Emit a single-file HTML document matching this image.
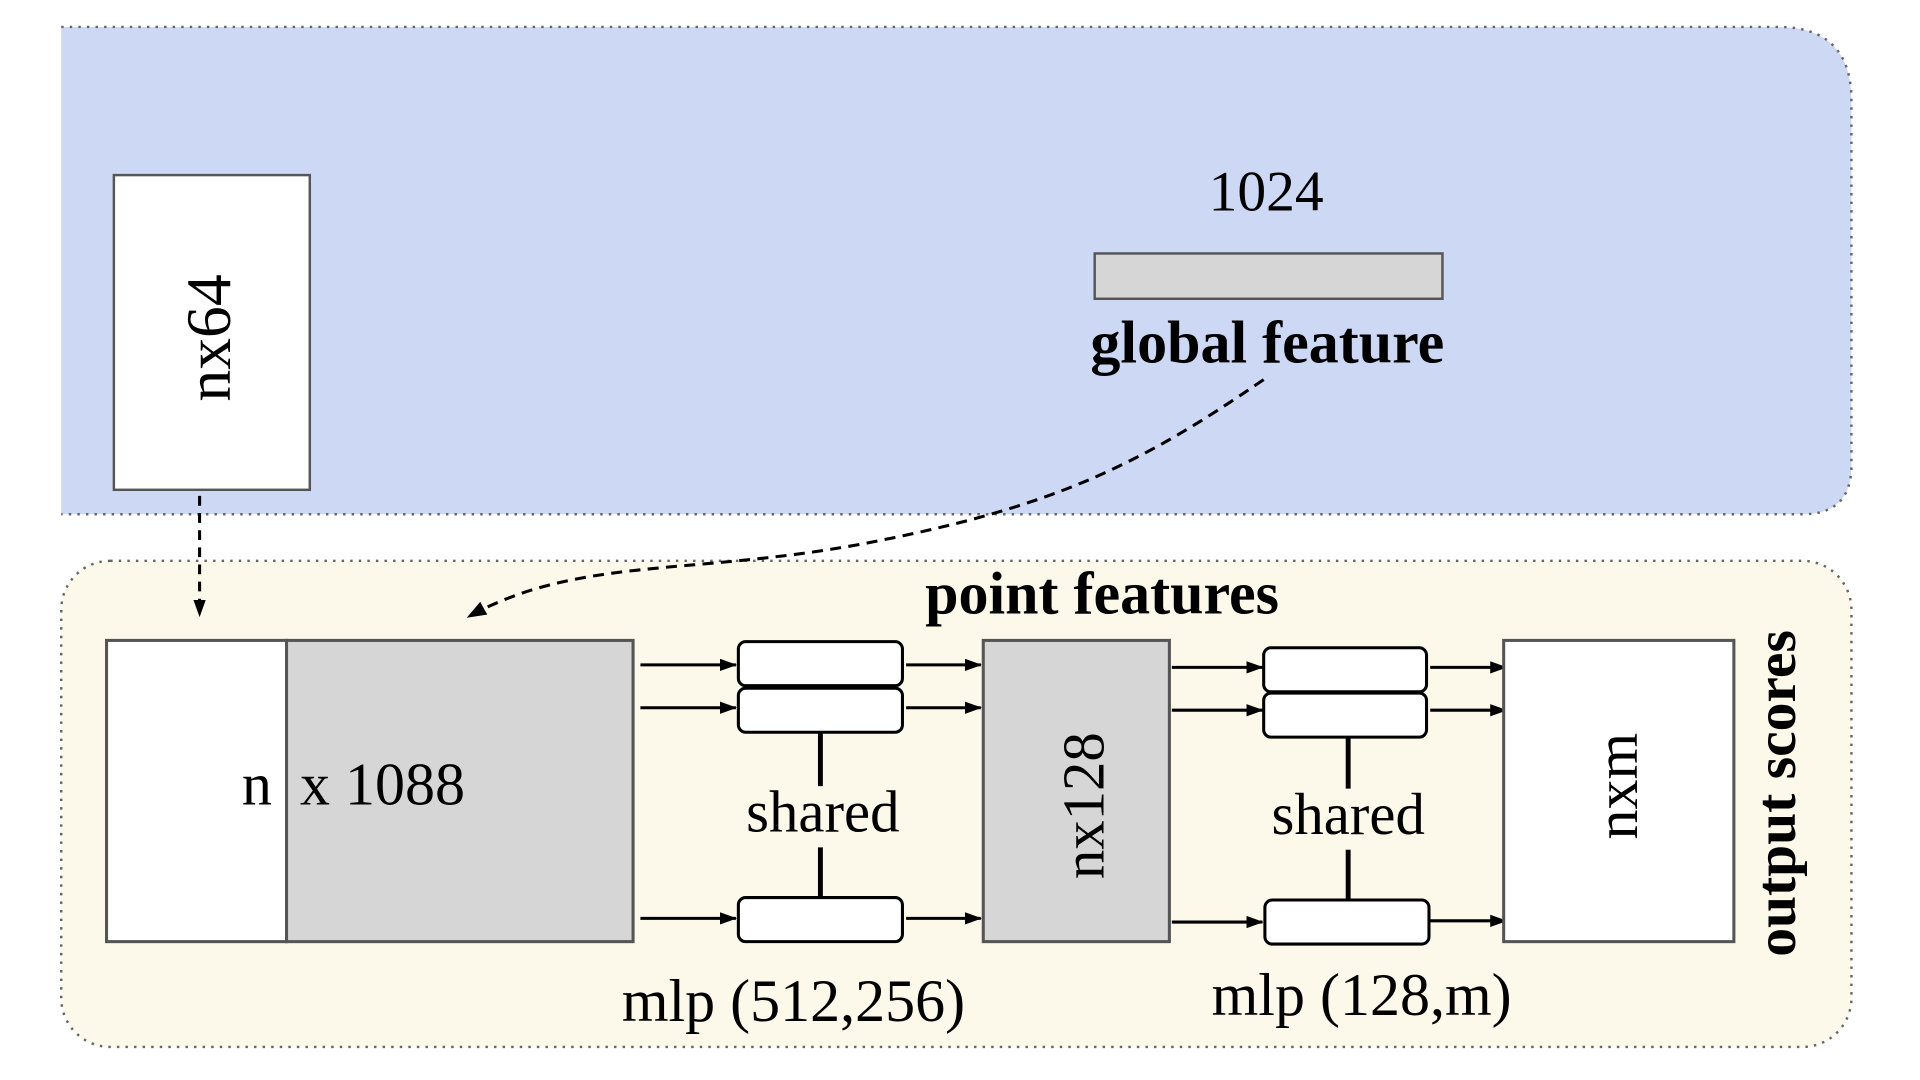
<!DOCTYPE html>
<html><head><meta charset="utf-8"><style>html,body{margin:0;padding:0;background:#fff;}svg{display:block}</style></head>
<body>
<svg width="1920" height="1080" viewBox="0 0 1568 882" preserveAspectRatio="none" xmlns="http://www.w3.org/2000/svg" font-family="'Liberation Serif', serif">
<defs>
<marker id="ah" markerWidth="14" markerHeight="10" refX="13" refY="5" orient="auto" markerUnits="userSpaceOnUse"><path d="M0,0 L14,5 L0,10 z" fill="#000"/></marker>
<marker id="ah2" markerWidth="16" markerHeight="12" refX="15" refY="6" orient="auto" markerUnits="userSpaceOnUse"><path d="M0,0 L16,6 L0,12 z" fill="#000"/></marker>
</defs>
<path d="M50,22 H1452 Q1512,22 1512,82 V380 Q1512,420 1472,420 H50 Z" fill="#cdd8f5"/>
<path d="M50,22 H1452 Q1512,22 1512,82 V380 Q1512,420 1472,420 H50" fill="none" stroke="#666" stroke-width="2" stroke-dasharray="2,5"/>
<rect x="50" y="458" width="1462" height="397" rx="40" fill="#fcf9ea" stroke="#666" stroke-width="2" stroke-dasharray="2,5"/>

<rect x="93" y="143" width="160" height="257" fill="#fff" stroke="#555" stroke-width="2"/>
<text x="0" y="0" font-size="52" text-anchor="middle" transform="translate(188,276) rotate(-90)">nx64</text>

<text x="1034" y="172" font-size="47" text-anchor="middle">1024</text>
<rect x="894" y="207" width="284" height="37" fill="#d6d6d6" stroke="#555" stroke-width="2"/>
<text x="1035" y="296" font-size="49" font-weight="bold" text-anchor="middle">global feature</text>

<path d="M1032,310 C930,380 860,415 700,445 C560,470 470,455 382,504" fill="none" stroke="#000" stroke-width="2.5" stroke-dasharray="9,6" marker-end="url(#ah2)"/>
<line x1="163" y1="405" x2="163" y2="503" stroke="#000" stroke-width="2.5" stroke-dasharray="8,6" marker-end="url(#ah)"/>

<text x="900" y="501" font-size="49" font-weight="bold" text-anchor="middle">point features</text>

<rect x="87" y="523" width="147" height="246" fill="#fff" stroke="#555" stroke-width="2.5"/>
<rect x="234" y="523" width="283" height="246" fill="#d6d6d6" stroke="#555" stroke-width="2.5"/>
<text x="222" y="657" font-size="49" text-anchor="end">n</text>
<text x="245" y="657" font-size="49">x 1088</text>

<g stroke="#000" stroke-width="2.5" marker-end="url(#ah)">
<line x1="523" y1="543" x2="601" y2="543"/><line x1="523" y1="578" x2="601" y2="578"/><line x1="523" y1="750" x2="601" y2="750"/>
<line x1="740" y1="543" x2="801" y2="543"/><line x1="740" y1="578" x2="801" y2="578"/><line x1="740" y1="750" x2="801" y2="750"/>
<line x1="957" y1="545" x2="1031" y2="545"/><line x1="957" y1="580" x2="1031" y2="580"/><line x1="957" y1="753" x2="1031" y2="753"/>
<line x1="1168" y1="545" x2="1230" y2="545"/><line x1="1168" y1="580" x2="1230" y2="580"/><line x1="1168" y1="752" x2="1230" y2="752"/>
</g>

<g fill="#fff" stroke="#000" stroke-width="2.5">
<rect x="603" y="524" width="134" height="36" rx="6"/><rect x="603" y="562" width="134" height="36" rx="6"/><rect x="603" y="733" width="134" height="36" rx="6"/>
<rect x="1032" y="529" width="133" height="36" rx="6"/><rect x="1032" y="566" width="133" height="36" rx="6"/><rect x="1033" y="735" width="134" height="36" rx="6"/>
</g>
<g stroke="#000" stroke-width="4">
<line x1="670" y1="598" x2="670" y2="642"/><line x1="670" y1="692" x2="670" y2="733"/>
<line x1="1101" y1="602" x2="1101" y2="644"/><line x1="1101" y1="694" x2="1101" y2="735"/>
</g>
<text x="672" y="679" font-size="48" text-anchor="middle">shared</text>
<text x="1101" y="681" font-size="48" text-anchor="middle">shared</text>

<rect x="803" y="523" width="152" height="246" fill="#d6d6d6" stroke="#555" stroke-width="2.5"/>
<text font-size="48" text-anchor="middle" transform="translate(901,658) rotate(-90)">nx128</text>

<rect x="1228" y="523" width="188" height="246" fill="#fff" stroke="#555" stroke-width="2.5"/>
<text font-size="49" text-anchor="middle" transform="translate(1337,642) rotate(-90)">nxm</text>

<text font-size="47" font-weight="bold" text-anchor="middle" transform="translate(1466,648) rotate(-90)">output scores</text>

<text x="648" y="834" font-size="49" text-anchor="middle">mlp (512,256)</text>
<text x="1112" y="829" font-size="49" text-anchor="middle">mlp (128,m)</text>
</svg>
</body></html>
